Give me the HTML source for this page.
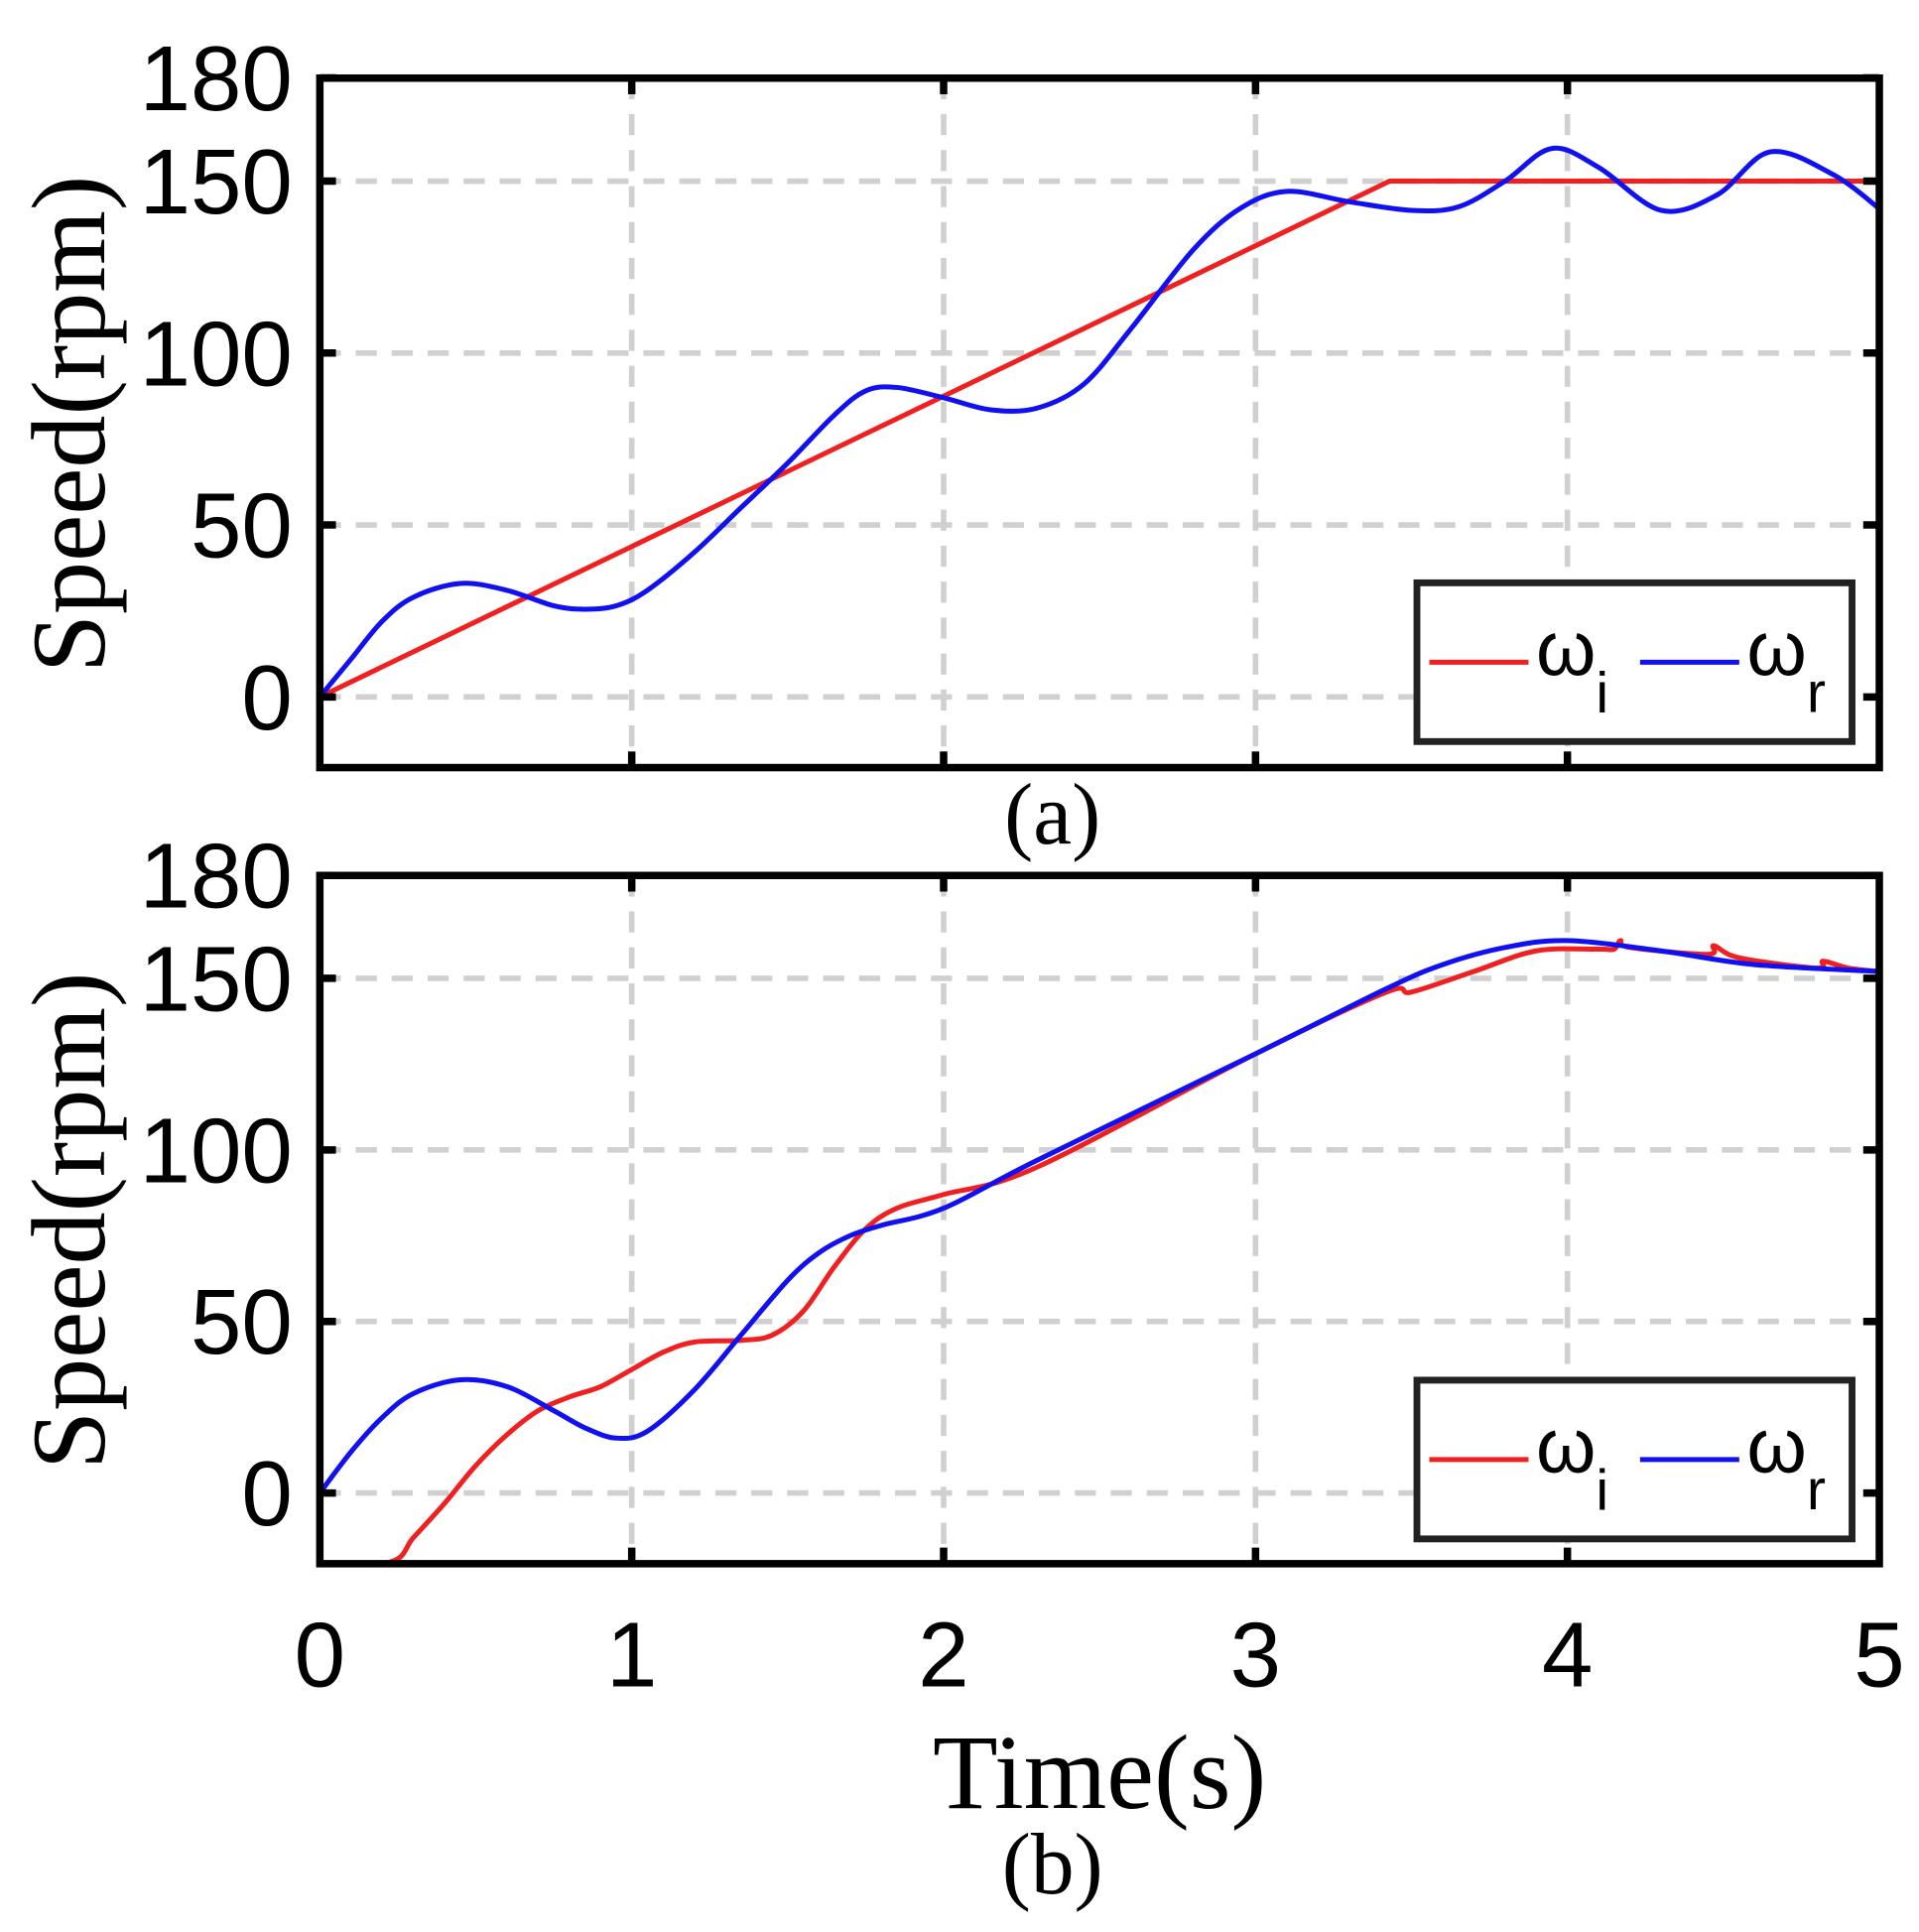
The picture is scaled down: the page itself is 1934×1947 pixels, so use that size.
<!DOCTYPE html>
<html><head><meta charset="utf-8"><style>html,body{margin:0;padding:0;background:#fff}svg{display:block}</style></head>
<body>
<svg id="chart" width="1934" height="1947" viewBox="0 0 1548 1558" preserveAspectRatio="none" xmlns="http://www.w3.org/2000/svg">
<defs>
<clipPath id="ca"><rect x="258" y="63" width="1258" height="556"/></clipPath>
<clipPath id="cb"><rect x="258" y="706" width="1258" height="555"/></clipPath>
</defs>
<g id="root"></g>
<text x="887" y="1458" font-family="Liberation Serif, serif" font-size="86" text-anchor="middle">Time(s)</text>
<text x="849" y="680" font-family="Liberation Serif, serif" font-size="70" text-anchor="middle">(a)</text>
<text x="849" y="1527" font-family="Liberation Serif, serif" font-size="70" text-anchor="middle">(b)</text>
</svg>
<script>
const xTicks=[0,1,2,3,4,5];
const yTicks=[0,50,100,150,180];
const gridY=[0,50,100,150];
const aRefT=[0,3.43,5];
const aRefV=[0,150,150];
const aActT=[0,0.1,0.2,0.3,0.45,0.6,0.75,0.85,0.95,1.05,1.2,1.35,1.5,1.65,1.75,1.85,2.0,2.15,2.3,2.45,2.6,2.8,2.95,3.1,3.3,3.5,3.65,3.8,3.95,4.1,4.3,4.48,4.65,4.85,5];
const aActV=[0,11,22,29,33,31,26.5,25.5,26.5,31,42,55,68,82,89,90,87,83.5,84,91,107,130,142,147,144,141.5,142.5,150,159.5,154,141.5,146,158.5,152,142];
const bRefT=[0,0.005,0.23,0.3,0.4,0.5,0.6,0.7,0.8,0.9,1.0,1.1,1.2,1.35,1.45,1.55,1.65,1.75,1.85,2.0,2.3,3.0,3.42,3.5,3.7,3.9,4.1,4.15,4.17,4.2,4.45,4.47,4.55,4.8,4.82,4.9,5];
const bRefV=[0,-22,-20,-13,-3,8,17,24,28,31,36,41,44,44.5,46,53,66,77,83,87,95,128,146,146,152,158,158.5,158.5,161,159,157,159.5,156,153,155,153,152];
const bActT=[0,0.1,0.2,0.3,0.45,0.6,0.75,0.85,0.95,1.05,1.2,1.35,1.5,1.6,1.7,1.8,2.0,2.3,3.0,3.42,3.6,3.8,4.0,4.3,4.6,5];
const bActV=[0,12,22,29,33,31,24,19,16,18,30,46,62,70,75,78,83,97,128,147,154,159,161,158,154,152];

const NS="http://www.w3.org/2000/svg";
const root=document.getElementById('root');
function mk(tag,attrs,parent){const e=document.createElementNS(NS,tag);for(const k in attrs)e.setAttribute(k,attrs[k]);(parent||root).appendChild(e);return e;}
const X0=258,X1=1516;
function xs(t){return X0+(X1-X0)*t/5;}
function path(T,V,ys,smooth){
  const p=T.map((t,i)=>[xs(t),ys(V[i])]);
  let d="M"+p[0][0]+","+p[0][1];
  for(let i=0;i<p.length-1;i++){
    if(!smooth){d+=" L"+p[i+1][0]+","+p[i+1][1];continue;}
    const p0=p[Math.max(0,i-1)],p1=p[i],p2=p[i+1],p3=p[Math.min(p.length-1,i+2)];
    const c1=[p1[0]+(p2[0]-p0[0])/6,p1[1]+(p2[1]-p0[1])/6];
    const c2=[p2[0]-(p3[0]-p1[0])/6,p2[1]-(p3[1]-p1[1])/6];
    d+=` C${c1[0]},${c1[1]} ${c2[0]},${c2[1]} ${p2[0]},${p2[1]}`;
  }
  return d;
}
function panel(name,top,bot,zeroY,unit,clip,refT,refV,actT,actV,refSmooth,legY,showX){
  const ys=v=>zeroY-unit*v;
  const g=mk('g',{});
  
  
  xTicks.slice(1,5).forEach(t=>{const l=mk('line',{x1:xs(t),x2:xs(t),y1:top,y2:bot,stroke:'#d0d0d0','stroke-width':4.5,'stroke-dasharray':'17,12'},g);
    });
  gridY.forEach(v=>{const l=mk('line',{x1:X0,x2:X1,y1:ys(v),y2:ys(v),stroke:'#d0d0d0','stroke-width':4.5,'stroke-dasharray':'17,12'},g);
    });
  const r=mk('path',{d:path(refT,refV,ys,refSmooth),fill:'none',stroke:'#f02020','stroke-width':4,'clip-path':`url(#${clip})`},g);
  
  const b=mk('path',{d:path(actT,actV,ys,true),fill:'none',stroke:'#1010f0','stroke-width':4,'clip-path':`url(#${clip})`},g);
  
  const fr=mk('rect',{x:X0,y:top,width:X1-X0,height:bot-top,fill:'none',stroke:'#000','stroke-width':6},g);
  
  xTicks.slice(1,5).forEach(t=>{mk('line',{x1:xs(t),x2:xs(t),y1:top,y2:top+13,stroke:'#000','stroke-width':6},g);mk('line',{x1:xs(t),x2:xs(t),y1:bot,y2:bot-13,stroke:'#000','stroke-width':6},g);});
  yTicks.forEach(v=>{mk('line',{x1:X0,x2:X0+13,y1:ys(v),y2:ys(v),stroke:'#000','stroke-width':6},g);mk('line',{x1:X1,x2:X1-13,y1:ys(v),y2:ys(v),stroke:'#000','stroke-width':6},g);
    const tx=mk('text',{x:236,y:ys(v)+26,'font-family':'Liberation Sans, sans-serif','font-size':74,'text-anchor':'end'},g);tx.textContent=v;
    });
  if(showX){xTicks.forEach(t=>{const tx=mk('text',{x:xs(t),y:1360,'font-family':'Liberation Sans, sans-serif','font-size':74,'text-anchor':'middle'},g);tx.textContent=t;
    });}
  const yl=mk('text',{transform:`translate(84,${(top+bot)/2+1}) rotate(-90)`,'font-family':'Liberation Serif, serif','font-size':85,'text-anchor':'middle'},g);yl.textContent='Speed(rpm)';
  
  const lg=mk('g',{},g);
  mk('rect',{x:1143,y:legY,width:351,height:128,fill:'#fff',stroke:'#222','stroke-width':5.5},lg);
  mk('line',{x1:1153,x2:1233,y1:legY+64,y2:legY+64,stroke:'#f02020','stroke-width':4},lg);
  const t1=mk('text',{x:1239,y:legY+74,'font-family':'Liberation Sans, DejaVu Sans, sans-serif','font-size':62},lg);t1.innerHTML='ω<tspan font-size="46" dy="30">i</tspan>';
  
  mk('line',{x1:1323,x2:1403,y1:legY+64,y2:legY+64,stroke:'#1010f0','stroke-width':4},lg);
  const t2=mk('text',{x:1409,y:legY+74,'font-family':'Liberation Sans, DejaVu Sans, sans-serif','font-size':62},lg);t2.innerHTML='ω<tspan font-size="46" dy="30">r</tspan>';
  
}
panel('panel-a',63,619,562,2.773,'ca',aRefT,aRefV,aActT,aActV,false,470,false);
panel('panel-b',706,1261,1204,2.767,'cb',bRefT,bRefV,bActT,bActV,true,1113,true);
</script>
</body></html>
